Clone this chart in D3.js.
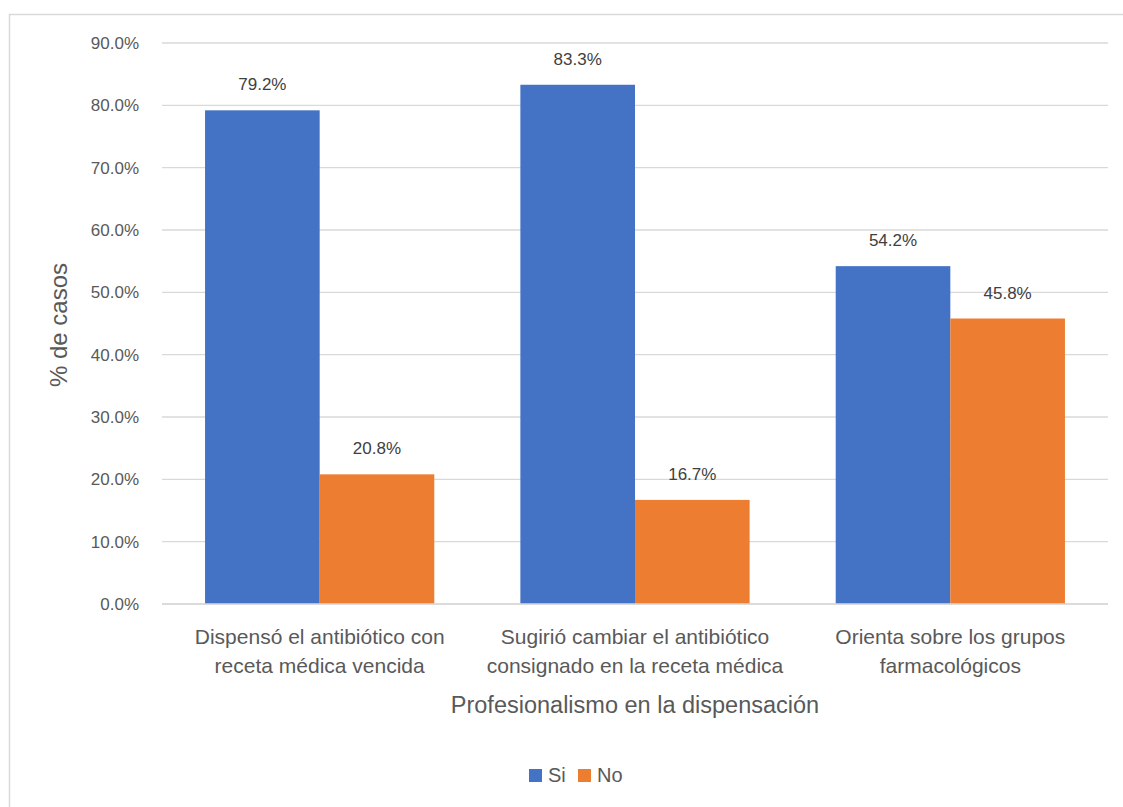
<!DOCTYPE html>
<html lang="es">
<head>
<meta charset="UTF-8">
<title>Profesionalismo en la dispensación</title>
<script src="https://d3js.org/d3.v7.min.js"></script>
<style>
  body { margin: 0; background: #fff; }
  svg { display: block; font-family: "Liberation Sans", Arial, sans-serif; }
  .tick text { fill: #595959; }
</style>
</head>
<body>
<svg id="chart" width="1123" height="807"></svg>
<script>
// datos
const categories = [
  ["Dispensó el antibiótico con", "receta médica vencida"],
  ["Sugirió cambiar el antibiótico", "consignado en la receta médica"],
  ["Orienta sobre los grupos", "farmacológicos"]
];
const seriesNames = ["Si", "No"];
const siValues = [79.2, 83.3, 54.2];
const noValues = [20.8, 16.7, 45.8];
const yTicks = [0, 10, 20, 30, 40, 50, 60, 70, 80, 90];
const colors = { "Si": "#4472c4", "No": "#ed7d31" };

const svg = d3.select("#chart");
const margin = { top: 43, right: 15, bottom: 203, left: 162 };
const width = 1108 - margin.left;
const height = 604 - margin.top;

// marco del gráfico
svg.append("rect")
  .attr("x", 9.5).attr("y", 14.5)
  .attr("width", 1130).attr("height", 810)
  .attr("fill", "none").attr("stroke", "#d9d9d9").attr("stroke-width", 1.5);

const g = svg.append("g").attr("transform", `translate(${margin.left},${margin.top})`);

const x0 = d3.scaleBand().domain(d3.range(categories.length)).range([0, width]).paddingInner(0.273).paddingOuter(0.1365);
const x1 = d3.scaleBand().domain(seriesNames).range([0, x0.bandwidth()]);
const y = d3.scaleLinear().domain([0, 90]).range([height, 0]);

// líneas de cuadrícula
g.append("g")
  .selectAll("line")
  .data(yTicks)
  .enter().append("line")
  .attr("x1", 0).attr("x2", width)
  .attr("y1", d => y(d)).attr("y2", d => y(d))
  .attr("stroke", "#d9d9d9").attr("stroke-width", 1.3);

// eje y
const yAxis = g.append("g")
  .call(d3.axisLeft(y).tickValues(yTicks).tickFormat(d => d.toFixed(1) + "%").tickSize(0).tickPadding(23));
yAxis.select(".domain").remove();
yAxis.selectAll("text").style("font-size", "17px");

const rows = categories.map((c, i) => ({ i, Si: siValues[i], No: noValues[i] }));

// barras
const groups = g.selectAll(".grp").data(rows).enter().append("g")
  .attr("class", "grp")
  .attr("transform", d => `translate(${x0(d.i)},0)`);

groups.selectAll("rect")
  .data(d => seriesNames.map(s => ({ s, v: d[s] })))
  .enter().append("rect")
  .attr("x", d => x1(d.s))
  .attr("y", d => y(d.v))
  .attr("width", x1.bandwidth())
  .attr("height", d => height - y(d.v))
  .attr("fill", d => colors[d.s]);

groups.selectAll(".lbl")
  .data(d => seriesNames.map(s => ({ s, v: d[s] })))
  .enter().append("text")
  .attr("class", "lbl")
  .attr("x", d => x1(d.s) + x1.bandwidth() / 2)
  .attr("y", d => y(d.v) - 20)
  .attr("text-anchor", "middle")
  .style("font-size", "17px")
  .attr("fill", "#404040")
  .text(d => d.v.toFixed(1) + "%");

// eje x (línea base)
g.append("line")
  .attr("x1", 0).attr("x2", width)
  .attr("y1", height).attr("y2", height)
  .attr("stroke", "#d9d9d9").attr("stroke-width", 1.3);

const xl = g.append("g").selectAll("text")
  .data(categories)
  .enter().append("text")
  .attr("text-anchor", "middle")
  .attr("fill", "#595959")
  .style("font-size", "21px")
  .attr("transform", (d, i) => `translate(${x0(i) + x0.bandwidth() / 2},${height + 40})`);
xl.selectAll("tspan")
  .data(d => d)
  .enter().append("tspan")
  .attr("x", 0)
  .attr("dy", (d, i) => i === 0 ? 0 : 29)
  .text(d => d);

// títulos de ejes
svg.append("text")
  .attr("x", 635).attr("y", 713)
  .attr("text-anchor", "middle")
  .attr("fill", "#595959")
  .style("font-size", "23.5px")
  .text("Profesionalismo en la dispensación");

svg.append("text")
  .attr("transform", "translate(67,325) rotate(-90)")
  .attr("text-anchor", "middle")
  .attr("fill", "#595959")
  .style("font-size", "24px")
  .text("% de casos");

// leyenda
const legend = svg.append("g").attr("transform", "translate(529,769)");
const lx = [0, 49];
seriesNames.forEach((s, i) => {
  legend.append("rect")
    .attr("x", lx[i]).attr("y", 0)
    .attr("width", 13).attr("height", 13)
    .attr("fill", colors[s]);
  legend.append("text")
    .attr("x", lx[i] + 19).attr("y", 13)
    .attr("fill", "#595959")
    .style("font-size", "20px")
    .text(s);
});
</script>
</body>
</html>
